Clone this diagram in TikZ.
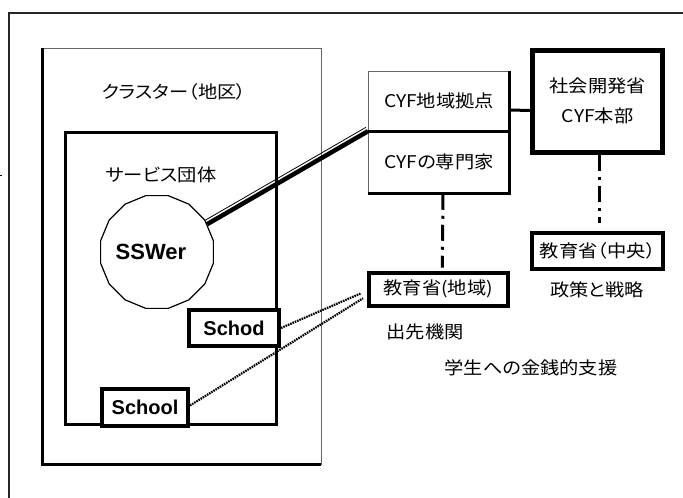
\documentclass[tikz,border=0pt]{standalone}
\usepackage{fontspec}
\setmainfont{Noto Sans CJK JP}[FakeStretch=1.1,RawFeature={+palt}]
\newfontfamily\lsans{Liberation Sans}
\usetikzlibrary{shapes.geometric,calc}
\begin{document}
\begin{tikzpicture}[x=1pt,y=-1pt,
  every node/.style={font=\fontsize{17.5}{20}\selectfont, inner sep=0pt},
  thinbox/.style={draw=black!60, line width=0.9pt},
  heavybox/.style={draw, line width=4pt},
  midbox/.style={draw, line width=3pt},
  heavyline/.style={line width=3pt},
  dashdot/.style={line width=3pt, dash pattern=on 16pt off 6pt on 3pt off 6pt},
  dotconn/.style={line width=2.2pt, dash pattern=on 1.6pt off 0.9pt},
  schoolfont/.style={font=\lsans\bfseries\fontsize{20}{20}\selectfont},
]
\useasboundingbox (0,0) rectangle (683,498);
% outer frame
\draw[line width=1.5pt, black!85] (9,498) -- (9,13) -- (683,13);
\draw[line width=1pt] (0,175) -- (2,175);

% cluster box
\node[thinbox, minimum width=278pt, minimum height=416pt] (cluster) at (182,256) {};
\draw[heavyline] (cluster.north west) -- (cluster.south west) -- (cluster.south east);
\node (clusterlbl) at (174,92) {クラスター（地区）};

% service group box
\node[midbox, minimum width=210.5pt, minimum height=291.7pt] (service) at (171.2,278.4) {};
\node (svclbl) at (161,175) {サービス団体};

% SSWer
\node[draw, regular polygon, regular polygon sides=16, minimum size=115pt, line width=1.2pt, fill=white] (ssw) at (157,252) {};
\node (sswlbl) at (151,252) {\lsans\bfseries\fontsize{22}{22}\selectfont SSWer};

% schools
\node[heavybox, fill=white, minimum width=90pt, minimum height=36pt, schoolfont] (schod) at (234,328) {Schod};
\node[heavybox, fill=white, minimum width=86pt, minimum height=37pt, schoolfont] (school) at (145,407.5) {School};

% CYF boxes
\node[thinbox, minimum width=141pt, minimum height=59pt] (cyf1) at (439,101.2) {CYF地域拠点};
\node[thinbox, minimum width=141pt, minimum height=62.6pt] (cyf2) at (439,162) {CYFの専門家};
\draw[heavyline] (cyf1.north east) -- (cyf2.south east) -- (cyf2.south west);
\draw[heavyline] (cyf1.south west) -- (cyf1.south east);

% ministry of social development
\node[draw, line width=5pt, minimum width=129.5pt, minimum height=102.3pt, align=center,
      font=\fontsize{17.5}{30}\selectfont] (min) at (597.7,101.3) {社会開発省\\CYF本部};

% ministry of education boxes
\node[heavybox, minimum width=138.6pt, minimum height=33.3pt] (reg) at (438.3,289.3) {教育省(地域)};
\node[heavybox, minimum width=130.5pt, minimum height=35.7pt] (cen) at (597.7,250.8) {教育省（中央）};

% free labels
\node (branch) at (425,332) {出先機関};
\node (policy) at (597,290) {政策と戦略};
\node (support) at (531,368) {学生への金銭的支援};

% connectors
\draw[line width=4.5pt] (ssw.29) -- (cyf1.south west);
\draw[line width=0.8pt, transform canvas={shift={(-2.2pt,3.8pt)}}] (ssw.29) -- (cyf1.south west);
\draw[heavyline] ([yshift=-9pt]cyf1.east) -- ([yshift=-9pt]min.west);
\draw[dashdot] ([xshift=4pt]cyf2.south) -- ([xshift=4pt,yshift=3pt]reg.north);
\draw[dashdot] ([xshift=2pt]min.south) -- ([xshift=2pt,yshift=8pt]cen.north);
\draw[dotconn] (schod.east) -- ([shift={(-6pt,-4pt)}]reg.west);
\draw[dotconn] ([yshift=2pt]school.east) -- ([shift={(-4pt,-9pt)}]reg.west);
\end{tikzpicture}
\end{document}
